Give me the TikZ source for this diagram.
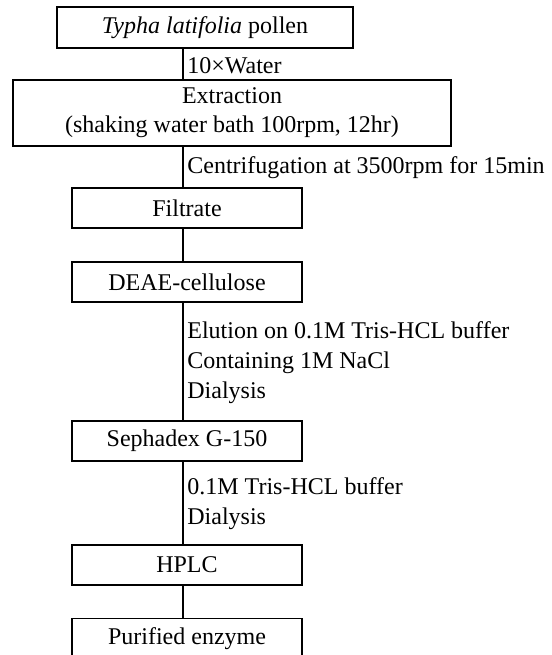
\documentclass[tikz,border=0pt]{standalone}
\usepackage{fontspec}
\setmainfont{Liberation Serif}
\usetikzlibrary{positioning}
\tikzset{
  box/.style={draw=black,line width=0.6pt,inner sep=0pt,align=center,
    minimum width=115pt,minimum height=20pt,font=\fontsize{12}{14.5}\selectfont},
  link/.style={draw=black,line width=0.6pt},
  note/.style={anchor=west,inner sep=0pt,align=left,
    font=\fontsize{12}{15}\selectfont}
}

\begin{document}
\begin{tikzpicture}[x=0.5pt,y=-0.5pt]
  \useasboundingbox (0,0) rectangle (552,655);
  \clip (0,0) rectangle (552,655);
  \coordinate (spine) at (183,0);
  % process boxes
  \node[box,minimum width=148pt,minimum height=20.5pt] (raw) at (205,27.5) {\textit{Typha latifolia} pollen};
  \node[box,minimum width=219pt,minimum height=33pt] (extract) at (232,113) {Extraction\\(shaking water bath 100rpm, 12hr)};
  \node[box] (filtrate) at (187,208) {Filtrate};
  \node[box] (deae) at (187,282) {DEAE-cellulose};
  \node[box] (sephadex) at (187,441) {Sephadex G-150};
  \node[box] (hplc) at (187,565) {HPLC};
  \node[box] (purified) at (187,638.5) {Purified enzyme};
  % conditions beside the spine
  \node[note] (water) at (187,66) {10×Water};
  \node[note] (spin) at (187,168) {Centrifugation at 3500rpm for 15min};
  \node[note] (elute) at (187,362.7) {Elution on 0.1M Tris-HCL buffer\\Containing 1M NaCl\\Dialysis};
  \node[note] (buffer) at (187,503.3) {0.1M Tris-HCL buffer\\Dialysis};
  \draw[link] (raw.south -| spine) -- (extract.north -| spine);
  \draw[link] (extract.south -| spine) -- (filtrate.north -| spine);
  \draw[link] (filtrate.south -| spine) -- (deae.north -| spine);
  \draw[link] (deae.south -| spine) -- (sephadex.north -| spine);
  \draw[link] (sephadex.south -| spine) -- (hplc.north -| spine);
  \draw[link] (hplc.south -| spine) -- (purified.north -| spine);
\end{tikzpicture}
\end{document}
